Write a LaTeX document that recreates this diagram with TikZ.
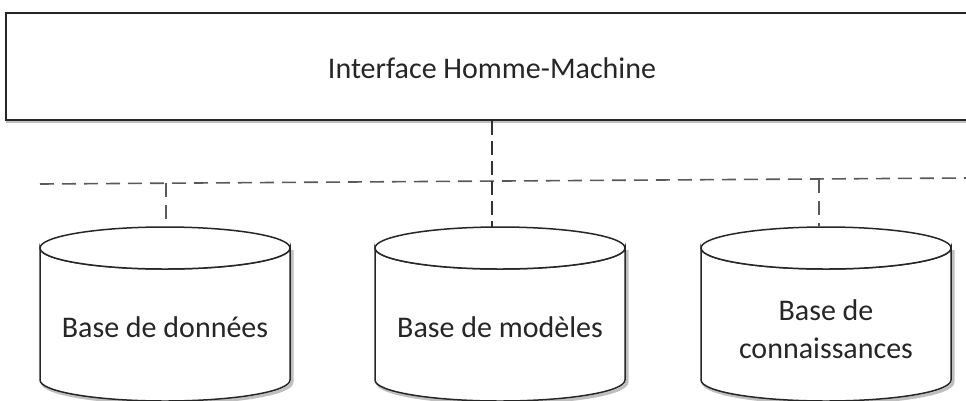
\documentclass[tikz,border=0pt]{standalone}
\usepackage{fontspec}
\setmainfont{Carlito}
\begin{document}
\begin{tikzpicture}[x=1pt,y=-1pt,
  lbl/.style={font=\fontsize{30}{38}\selectfont, text=black!85, align=center},
  outl/.style={draw=black!85, line width=1.5pt, fill=white},
  shadowline/.style={draw=black!25, line width=3pt},
  bus/.style={draw=black!65, line width=1.6pt, dash pattern=on 14pt off 8pt},
  link/.style={draw=black!80, line width=1.4pt, dash pattern=on 14pt off 6pt}]
\useasboundingbox (0,0) rectangle (966,400);
\fill[white] (0,0) rectangle (966,400);
% top box
\draw[shadowline] (7,15) rectangle (1020,121);
\node (ihmbox) [outl, line width=2pt, anchor=north west, minimum width=1010pt, minimum height=107pt, inner sep=0pt] at (5,12) {};
\node (ihm) [lbl] at (492,68) {Interface Homme-Machine};
% cylinders
\foreach \cx/\nm in {165/c1, 500/c2, 826/c3}{
  \draw[shadowline] (\cx-123,250) -- (\cx-123,382) arc (180:0:125 and 21) -- (\cx+127,250);
  \path[outl] (\cx-125,248) -- (\cx-125,380) arc (180:0:125 and 21) -- (\cx+125,248) arc (0:180:125 and 21) -- cycle;
  \draw[outl] (\cx,248) ellipse (125 and 21);
}
\coordinate (t1) at (166,227);
\coordinate (t2) at (492,227);
\coordinate (t3) at (819,227);
\node (db) [lbl] at (165,327) {Base de données};
\node (mb) [lbl] at (500,327) {Base de modèles};
\node (kb) [lbl] at (826,329) {Base de\\connaissances};
% bus
\coordinate (busL) at (40,184);
\coordinate (busR) at (966,178);
\coordinate (b1) at (166,183.2);
\coordinate (b3) at (819,179.3);
\draw[bus] (busL) -- (busR);
\draw[link] (ihmbox.south -| t2) -- (t2);
\draw[bus] (b1) -- (t1);
\draw[bus] (b3) -- (t3);
\end{tikzpicture}
\end{document}
